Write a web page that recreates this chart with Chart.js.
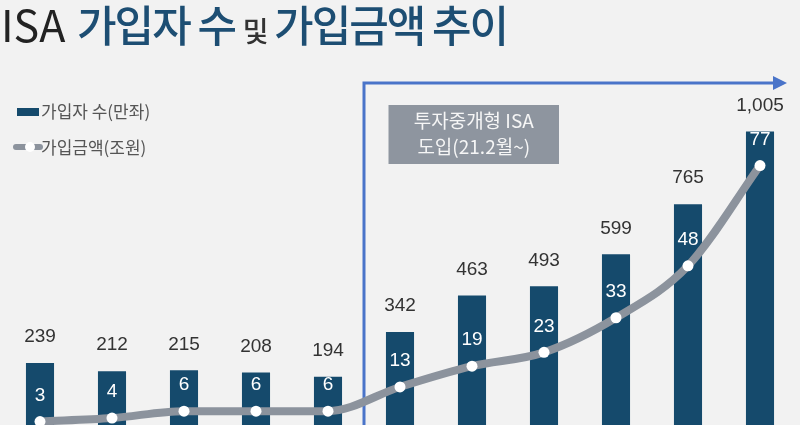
<!DOCTYPE html>
<html>
<head>
<meta charset="utf-8">
<script src="https://cdn.jsdelivr.net/npm/chart.js@4.4.1/dist/chart.umd.min.js"></script>
<style>
    html, body { margin: 0; padding: 0; background: #f2f2f2; }
    #wrap { position: relative; width: 800px; height: 425px; overflow: hidden; }
    #title { position: absolute; left: 1px; top: -7px; font-family: "Noto Sans CJK KR"; font-weight: 500;
             font-size: 43px; line-height: 60px; color: #1d4e73; white-space: nowrap; letter-spacing: -2px; }
    #title .isa { color: #222; letter-spacing: 0; font-weight: 400; margin-right: 4px; }
    #title .and { color: #333; font-size: 28px; }
    .lg { position: absolute; left: 41px; font-family: "Noto Sans CJK KR"; font-size: 17px; color: #555;
          line-height: 20px; white-space: nowrap; }
    .sw-bar { position: absolute; left: 17px; top: 108px; width: 22px; height: 8px; background: #154a6c; }
    .sw-line { position: absolute; left: 13px; top: 144px; width: 30px; height: 6px; background: #8c939d; border-radius: 3px; }
    .sw-dot { position: absolute; left: 25px; top: 142px; width: 10px; height: 10px; background: #fff; border-radius: 5px; }
    canvas { position: absolute; left: 0; top: 0; }
</style>
</head>
<body>
<div id="wrap">
    <canvas id="js-isa-chart" width="800" height="425"></canvas>
    <div id="title"><span class="isa">ISA</span> 가입자 수 <span class="and">및</span> 가입금액 추이</div>
    <div class="sw-bar"></div>
    <div class="lg" style="top:101px">가입자 수(만좌)</div>
    <div class="sw-line"></div>
    <div class="sw-dot"></div>
    <div class="lg" style="top:137px">가입금액(조원)</div>
</div>
<script>
// periods (x axis is not shown in the picture)
var periods = ["1", "2", "3", "4", "5", "6", "7", "8", "9", "10", "11"];
// 가입자 수 (만좌)
var subscribers = [239, 212, 215, 208, 194, 342, 463, 493, 599, 765, 1005];
// 가입금액 (조원)
var amounts = [3, 4, 6, 6, 6, 13, 19, 23, 33, 48, 77];
var boxLines = ["투자중개형 ISA", "도입(21.2월~)"];

var bracketPlugin = {
    id: "bracket",
    beforeDatasetsDraw: function (chart) {
        var ctx = chart.ctx;
        var x = chart.scales.x;
        var area = chart.chartArea;
        var left = (x.getPixelForValue(4) + x.getPixelForValue(5)) / 2;
        var top = 83;
        var tip = area.right - 9;

        ctx.save();
        ctx.strokeStyle = "#4a74c9";
        ctx.fillStyle = "#4a74c9";
        ctx.lineWidth = 3;
        ctx.beginPath();
        ctx.moveTo(left, area.bottom + 5);
        ctx.lineTo(left, top);
        ctx.lineTo(tip - 10, top);
        ctx.stroke();
        ctx.beginPath();
        ctx.moveTo(tip, top);
        ctx.lineTo(tip - 14, top - 7);
        ctx.lineTo(tip - 14, top + 7);
        ctx.closePath();
        ctx.fill();

        // grey note box
        var bx1 = x.getPixelForValue(5) - 11.5;
        var bx2 = x.getPixelForValue(7) + 15;
        ctx.fillStyle = "#8e959f";
        ctx.fillRect(bx1, 105, bx2 - bx1, 59);
        ctx.fillStyle = "#f6f6f6";
        ctx.font = "19px 'Noto Sans CJK KR'";
        ctx.textAlign = "center";
        ctx.textBaseline = "middle";
        ctx.fillText(boxLines[0], (bx1 + bx2) / 2, 121);
        ctx.fillText(boxLines[1], (bx1 + bx2) / 2, 147);
        ctx.restore();
    }
};

var valueLabelPlugin = {
    id: "valueLabels",
    afterDatasetsDraw: function (chart) {
        var ctx = chart.ctx;
        ctx.save();
        ctx.textAlign = "center";
        ctx.textBaseline = "middle";
        ctx.font = "19px 'Liberation Sans', Arial";

        chart.getDatasetMeta(0).data.forEach(function (bar, i) {
            ctx.fillStyle = "#333";
            ctx.fillText(subscribers[i].toLocaleString("en-US"), bar.x, bar.y - 26);
        });
        chart.getDatasetMeta(1).data.forEach(function (pt, i) {
            ctx.fillStyle = "#fff";
            ctx.fillText(String(amounts[i]), pt.x, pt.y - 26);
        });
        ctx.restore();
    }
};

var chart = new Chart(document.getElementById("js-isa-chart"), {
    type: "bar",
    data: {
        labels: periods,
        datasets: [{
            label: "가입자 수(만좌)",
            data: subscribers,
            backgroundColor: "#154a6c",
            barPercentage: 0.39,
            categoryPercentage: 1,
            yAxisID: "y",
            order: 1
        }, {
            type: "line",
            label: "가입금액(조원)",
            data: amounts,
            borderColor: "#8c939d",
            borderWidth: 8,
            cubicInterpolationMode: "monotone",
            pointRadius: 5.5,
            pointBorderWidth: 0,
            pointBackgroundColor: "#fff",
            clip: false,
            yAxisID: "y2",
            order: 0
        }]
    },
    options: {
        responsive: false,
        animation: false,
        layout: {
            autoPadding: false,
            padding: { left: 4, right: 4, top: 60, bottom: 0 }
        },
        scales: {
            x: { display: false },
            y: { display: false, min: 34, max: 1242 },
            y2: { display: false, min: 2, max: 107.5 }
        },
        plugins: {
            legend: { display: false },
            tooltip: { enabled: false }
        }
    },
    plugins: [bracketPlugin, valueLabelPlugin]
});
</script>
</body>
</html>
